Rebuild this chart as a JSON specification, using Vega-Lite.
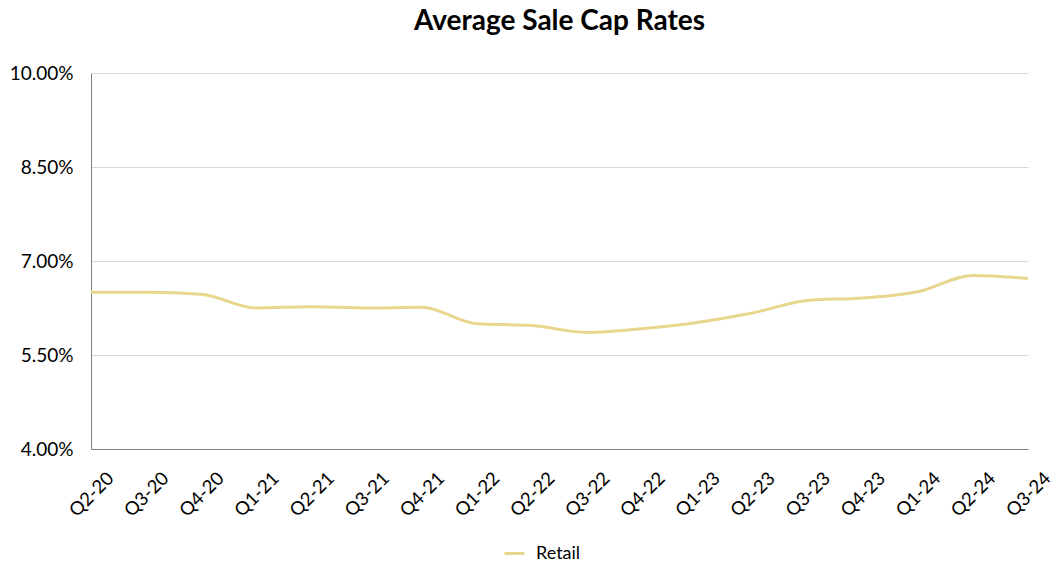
{
  "$schema": "https://vega.github.io/schema/vega-lite/v6.json",
  "width": 937,
  "height": 376,
  "autosize": "none",
  "padding": {"left": 91, "top": 73, "right": 33, "bottom": 120},
  "background": "white",
  "title": {"text": "Average Sale Cap Rates", "font": "Lato", "fontSize": 28, "fontWeight": "bold", "color": "#000000", "offset": 28, "anchor": "middle"},
  "data": {"values": [
    {"q": "Q2-20", "v": 0.0650, "s": "Retail"},
    {"q": "Q3-20", "v": 0.0650, "s": "Retail"},
    {"q": "Q4-20", "v": 0.0647, "s": "Retail"},
    {"q": "Q1-21", "v": 0.0625, "s": "Retail"},
    {"q": "Q2-21", "v": 0.0627, "s": "Retail"},
    {"q": "Q3-21", "v": 0.0625, "s": "Retail"},
    {"q": "Q4-21", "v": 0.0626, "s": "Retail"},
    {"q": "Q1-22", "v": 0.0600, "s": "Retail"},
    {"q": "Q2-22", "v": 0.0597, "s": "Retail"},
    {"q": "Q3-22", "v": 0.0586, "s": "Retail"},
    {"q": "Q4-22", "v": 0.0592, "s": "Retail"},
    {"q": "Q1-23", "v": 0.0602, "s": "Retail"},
    {"q": "Q2-23", "v": 0.0617, "s": "Retail"},
    {"q": "Q3-23", "v": 0.0637, "s": "Retail"},
    {"q": "Q4-23", "v": 0.0641, "s": "Retail"},
    {"q": "Q1-24", "v": 0.0651, "s": "Retail"},
    {"q": "Q2-24", "v": 0.0677, "s": "Retail"},
    {"q": "Q3-24", "v": 0.0672, "s": "Retail"}
  ]},
  "mark": {"type": "line", "interpolate": "monotone", "strokeWidth": 3},
  "encoding": {
    "x": {"field": "q", "type": "ordinal", "sort": null, "scale": {"type": "point", "padding": 0},
      "axis": {"title": null, "labelAngle": -45, "labelAlign": "center", "labelBaseline": "middle", "labelFont": "Lato", "labelFontSize": 18.5, "labelColor": "#000000", "ticks": false, "domainColor": "#808080", "labelPadding": 45, "grid": false, "labelOverlap": false}},
    "y": {"field": "v", "type": "quantitative", "scale": {"domain": [0.04, 0.10], "nice": false, "zero": false},
      "axis": {"title": null, "values": [0.04, 0.055, 0.07, 0.085, 0.10], "format": ".2%", "labelFont": "Lato", "labelFontSize": 19, "labelColor": "#000000", "ticks": false, "domainColor": "#808080", "gridColor": "#d9d9d9", "labelPadding": 18}},
    "color": {"field": "s", "type": "nominal", "scale": {"range": ["#E8D68C"]},
      "legend": {"title": null, "orient": "none", "legendX": 412, "legendY": 469, "direction": "horizontal", "labelFont": "Lato", "labelFontSize": 18, "labelColor": "#000000", "symbolType": "stroke", "symbolStrokeWidth": 3, "symbolSize": 400, "labelOffset": 10}}
  },
  "config": {"view": {"stroke": null}}
}
